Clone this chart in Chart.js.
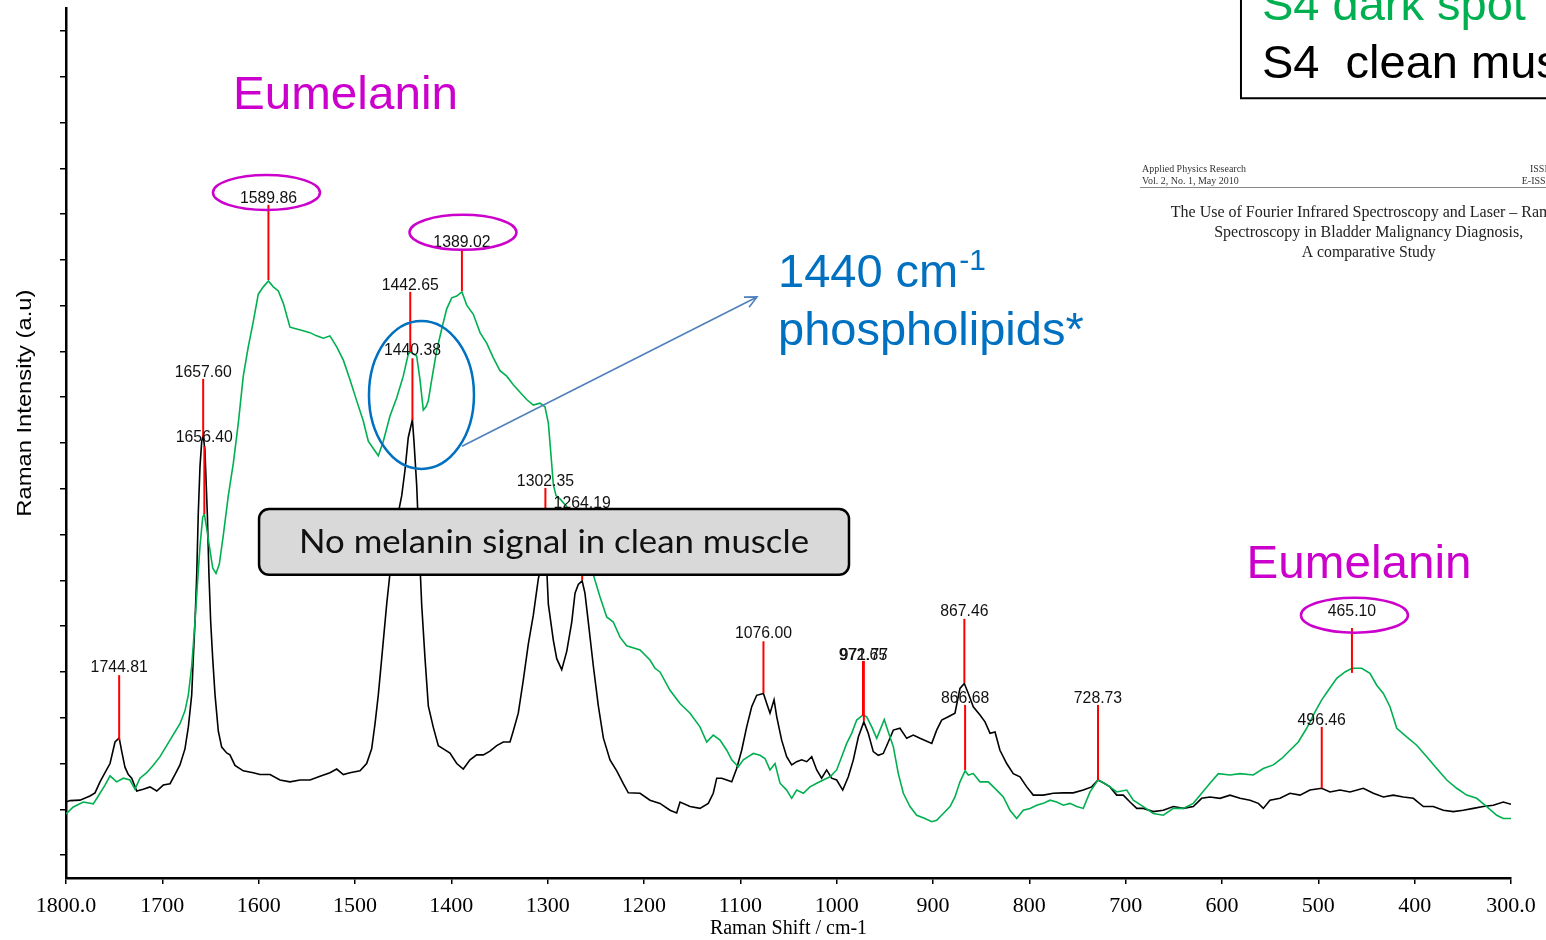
<!DOCTYPE html>
<html><head><meta charset="utf-8">
<script src="https://cdn.jsdelivr.net/npm/chart.js@4.4.1/dist/chart.umd.min.js"></script>
<style>html,body{margin:0;padding:0;background:#fff;}#wrap{width:1546px;height:940px;position:relative;}</style>
</head><body><div id="wrap"><canvas id="c"></canvas></div>
<script>
// ---------- DATA ----------
const xTickValues = [1800,1700,1600,1500,1400,1300,1200,1100,1000,900,800,700,600,500,400,300];
const yTickValues = [0,1,2,3,4,5,6,7,8,9,10,11,12,13,14,15,16,17,18];
const xTitle = 'Raman Shift / cm-1';
const yTitle = 'Raman Intensity (a.u)';
const seriesNames = ['S4 dark spot', 'S4  clean muscle'];

const greenWn = [1800,1792.4,1782.0,1771.7,1766.5,1759.5,1754.3,1747.4,1740.5,1733.6,1728.4,1723.2,1716.2,1709.4,1702.4,1695.5,1688.6,1681.7,1676.5,1673.0,1669.5,1666.1,1663.7,1660.9,1658.1,1656.4,1654.0,1651.2,1647.7,1644.3,1640.9,1636.7,1631.5,1626.3,1621.1,1616.0,1610.8,1605.6,1600.4,1595.2,1589.9,1584.8,1579.6,1574.4,1567.5,1560.5,1553.7,1546.7,1539.8,1532.9,1526.0,1519.0,1512.1,1505.2,1498.2,1491.4,1486.2,1481.0,1475.8,1470.6,1463.7,1456.7,1449.9,1444.7,1442.7,1436.0,1432.5,1429.1,1426.3,1423.9,1420.4,1415.2,1410.0,1404.8,1399.6,1394.4,1389.0,1384.0,1377.2,1370.2,1363.3,1356.4,1349.5,1342.5,1335.7,1328.7,1321.8,1314.9,1308.0,1302.8,1299.3,1296.8,1294.1,1291.3,1287.2,1280.2,1271.6,1261.3,1252.6,1245.7,1238.7,1231.9,1224.9,1218.0,1204.1,1193.8,1188.6,1183.4,1173.0,1162.6,1152.2,1141.9,1134.9,1128.1,1121.1,1114.1,1108.9,1102.1,1096.9,1091.7,1086.5,1079.6,1074.4,1069.2,1064.0,1058.8,1051.9,1046.7,1041.5,1034.6,1027.7,1020.7,1013.9,1006.9,1000.0,994.8,989.6,984.4,979.2,972.7,968.8,963.6,958.4,955.0,950.6,946.4,941.2,936.0,930.8,923.9,916.9,908.3,901.3,896.2,889.3,882.3,877.2,872.0,866.7,863.3,858.2,851.2,842.6,833.9,827.0,820.1,813.1,806.3,799.3,792.3,785.5,778.5,771.6,764.7,757.8,750.9,744.0,737.0,728.7,723.2,716.3,709.3,698.9,692.1,681.7,671.3,660.9,650.5,640.2,629.8,621.1,612.5,603.8,591.7,581.3,567.5,557.1,546.7,538.0,529.4,520.8,512.1,503.4,496.5,489.6,480.9,472.3,465.1,455.0,446.4,439.4,432.5,425.6,418.6,408.3,397.9,387.5,377.1,366.7,356.4,346.0,335.6,325.2,314.8,308.0,300];
const greenI = [0.90,1.05,1.16,1.12,1.29,1.53,1.73,1.60,1.68,1.64,1.44,1.68,1.80,1.96,2.15,2.39,2.63,2.87,3.15,3.50,4.13,5.09,5.88,6.75,7.38,7.45,7.14,6.75,6.27,6.15,6.35,6.99,7.85,8.56,9.44,10.46,11.10,11.65,12.25,12.41,12.54,12.41,12.32,12.05,11.53,11.49,11.45,11.41,11.34,11.29,11.34,11.10,10.81,10.38,9.92,9.48,9.04,8.88,8.72,9.04,9.59,9.99,10.46,10.94,10.99,10.90,10.38,9.72,9.79,9.92,10.38,11.02,11.49,11.93,12.17,12.21,12.30,12.01,11.81,11.41,11.18,10.86,10.58,10.46,10.27,10.11,9.95,9.83,9.87,9.79,9.44,8.80,8.09,7.85,7.78,7.61,7.21,6.71,6.12,5.64,5.20,5.09,4.76,4.57,4.48,4.26,4.08,4.00,3.60,3.31,3.10,2.80,2.47,2.62,2.51,2.29,2.08,1.93,2.08,2.15,2.22,2.18,2.11,1.86,2.00,1.57,1.42,1.24,1.42,1.35,1.49,1.57,1.64,1.71,1.86,2.15,2.44,2.66,2.95,3.06,3.02,2.80,2.55,2.73,2.96,2.69,2.37,1.78,1.35,1.06,0.87,0.80,0.73,0.76,0.91,1.06,1.27,1.60,1.84,1.75,1.78,1.60,1.60,1.42,1.27,0.98,0.80,0.98,1.02,1.09,1.13,1.20,1.16,1.09,1.13,1.06,1.02,1.38,1.64,1.58,1.49,1.38,1.42,1.20,1.06,0.91,0.87,1.02,1.02,1.13,1.35,1.57,1.78,1.75,1.78,1.75,1.89,1.97,2.11,2.29,2.47,2.77,3.13,3.39,3.60,3.86,4.00,4.08,4.08,3.97,3.71,3.53,3.24,2.77,2.58,2.40,2.15,1.89,1.64,1.46,1.31,1.24,1.06,0.87,0.80,0.80];

const blackWn = [1800,1795.8,1785.5,1775.1,1769.9,1764.7,1759.5,1754.3,1749.1,1744.8,1742.2,1738.8,1735.3,1731.8,1726.6,1719.8,1712.8,1705.8,1699.0,1692.0,1686.9,1681.7,1676.5,1673.0,1669.5,1667.9,1666.1,1664.3,1662.7,1660.9,1659.1,1657.6,1655.8,1655.0,1653.3,1651.6,1649.8,1647.7,1645.3,1641.9,1638.4,1633.2,1629.8,1624.6,1616.0,1605.6,1598.6,1588.2,1577.9,1567.5,1557.1,1546.7,1536.3,1526.0,1519.0,1512.1,1505.2,1494.8,1487.9,1482.7,1479.2,1475.8,1472.3,1467.1,1461.9,1456.7,1451.5,1448.1,1444.7,1440.4,1438.8,1436.0,1433.2,1430.8,1427.3,1423.9,1418.7,1413.5,1408.3,1401.4,1394.4,1387.6,1380.6,1373.7,1366.8,1359.9,1352.9,1346.1,1339.1,1335.7,1330.5,1325.3,1320.1,1314.9,1309.7,1306.2,1302.4,1299.3,1294.1,1290.6,1285.4,1280.2,1275.0,1271.6,1268.2,1264.2,1261.3,1257.8,1252.6,1247.4,1242.2,1235.3,1228.3,1221.5,1216.3,1204.1,1193.8,1183.4,1173.0,1166.1,1162.6,1152.2,1141.9,1133.3,1128.1,1124.5,1119.3,1114.1,1108.9,1103.8,1098.6,1093.4,1088.2,1083.0,1076.0,1072.6,1069.2,1065.0,1062.2,1057.1,1051.9,1046.7,1041.5,1036.3,1031.1,1025.9,1020.7,1015.6,1010.4,1005.2,1000.0,993.7,987.9,982.7,977.5,971.8,967.2,962.0,956.8,951.6,946.4,941.2,934.3,927.3,920.5,913.5,901.3,896.2,891.0,884.1,877.2,872.0,867.5,863.3,858.2,851.2,846.0,840.8,835.6,830.5,823.5,816.7,809.7,802.7,795.9,785.5,775.1,764.7,754.4,744.0,735.3,728.7,723.2,716.3,709.3,702.5,695.5,688.5,681.7,671.3,660.9,650.5,640.2,629.8,621.1,612.5,602.1,591.7,581.3,570.9,562.3,557.1,550.2,539.8,529.4,519.0,508.7,496.5,487.9,477.5,467.1,453.3,442.9,432.5,422.2,411.8,401.4,391.0,380.7,370.3,359.9,349.5,339.1,328.8,318.4,308.0,300];
const blackI = [1.16,1.19,1.20,1.29,1.36,1.60,1.80,2.00,2.47,2.56,2.27,1.92,1.76,1.68,1.40,1.44,1.49,1.40,1.53,1.56,1.76,1.97,2.32,2.80,3.50,4.29,5.09,6.12,7.46,8.49,9.04,9.16,8.85,8.41,7.46,6.12,5.09,4.29,3.50,2.71,2.36,2.23,2.19,1.96,1.84,1.80,1.76,1.76,1.64,1.60,1.64,1.64,1.72,1.80,1.88,1.76,1.80,1.84,2.00,2.32,2.87,3.50,4.29,5.48,6.51,7.30,7.85,8.41,9.12,9.51,9.04,8.09,6.66,5.48,4.29,3.26,2.79,2.39,2.32,2.23,2.00,1.88,2.08,2.19,2.19,2.27,2.39,2.47,2.47,2.71,3.10,3.82,4.61,5.24,6.03,6.36,6.92,5.48,4.69,4.29,4.05,4.45,5.09,5.72,5.91,5.99,5.72,5.09,4.13,3.26,2.56,2.08,1.84,1.56,1.36,1.35,1.20,1.13,0.98,0.92,1.16,1.06,1.02,1.13,1.35,1.68,1.68,1.64,1.60,1.89,2.29,2.80,3.24,3.49,3.53,3.31,3.10,3.39,3.02,2.51,2.15,1.97,2.04,2.08,2.04,2.15,1.86,1.68,1.86,1.68,1.64,1.42,1.71,2.08,2.58,2.91,2.66,2.26,2.18,2.22,2.47,2.73,2.77,2.55,2.62,2.55,2.44,2.73,2.95,3.02,3.10,3.64,3.75,3.53,3.24,3.06,2.91,2.66,2.69,2.29,2.00,1.78,1.71,1.49,1.31,1.31,1.35,1.36,1.36,1.42,1.49,1.64,1.58,1.49,1.31,1.31,1.16,1.02,1.02,0.95,0.98,1.06,1.02,1.06,1.24,1.27,1.24,1.31,1.24,1.20,1.13,1.02,1.20,1.24,1.35,1.31,1.42,1.46,1.38,1.42,1.38,1.46,1.35,1.27,1.31,1.27,1.24,1.06,1.06,0.98,0.95,0.98,1.02,1.06,1.09,1.16,1.11];

// peak annotations (wavenumber, label, label centre / line top / line bottom in intensity units)
const peakWn     = [1744.81,1657.60,1656.40,1589.86,1442.65,1440.38,1389.02,1302.35,1264.19,1076.00,972.65,971.77,867.46,866.68,728.73,496.46,465.10];
const peakText   = ['1744.81','1657.60','1656.40','1589.86','1442.65','1440.38','1389.02','1302.35','1264.19','1076.00','972.65','971.77','867.46','866.68','728.73','496.46','465.10'];
const peakLabelI = [4.13,10.59,9.15,14.39,12.49,11.07,13.43,8.21,7.73,4.87,4.39,4.39,5.35,3.45,3.45,2.97,5.35];
const peakTopI   = [3.93,10.40,8.93,14.20,12.30,10.85,13.24,8.02,7.54,4.67,4.24,4.24,5.16,3.28,3.28,2.80,4.96];
const peakBotI   = [2.51,9.13,7.45,12.56,10.99,9.50,12.32,6.92,6.01,3.54,3.04,2.93,3.76,1.86,1.64,1.46,3.98];

// ---------- helpers ----------
function fitText(ctx, text, x, y, font, color, align, width) {
  ctx.save();
  ctx.font = font; ctx.fillStyle = color; ctx.textBaseline = 'alphabetic';
  const w = ctx.measureText(text).width;
  const s = width ? width / w : 1;
  ctx.translate(x, y); ctx.scale(s, 1);
  ctx.textAlign = align; ctx.fillText(text, 0, 0);
  ctx.restore();
}
function roundRect(ctx, x, y, w, h, r) {
  ctx.beginPath();
  ctx.moveTo(x + r, y); ctx.lineTo(x + w - r, y); ctx.arcTo(x + w, y, x + w, y + r, r);
  ctx.lineTo(x + w, y + h - r); ctx.arcTo(x + w, y + h, x + w - r, y + h, r);
  ctx.lineTo(x + r, y + h); ctx.arcTo(x, y + h, x, y + h - r, r);
  ctx.lineTo(x, y + r); ctx.arcTo(x, y, x + r, y, r); ctx.closePath();
}

const SANS = '"Liberation Sans", Arial, sans-serif';
const SERIF = '"Liberation Serif", "Times New Roman", serif';

const overlay = {
  id: 'overlay',
  afterDatasetsDraw(chart) {
    const ctx = chart.ctx, xs = chart.scales.x, ys = chart.scales.y;
    const X = v => xs.getPixelForValue(v), Y = v => ys.getPixelForValue(v);
    ctx.save();
    // red peak markers
    ctx.strokeStyle = '#FF0000'; ctx.lineWidth = 2;
    peakWn.forEach((w, i) => {
      ctx.beginPath(); ctx.moveTo(X(w), Y(peakTopI[i])); ctx.lineTo(X(w), Y(peakBotI[i])); ctx.stroke();
    });
    ctx.fillStyle = '#111'; ctx.font = '15.8px ' + SANS; ctx.textAlign = 'center'; ctx.textBaseline = 'middle';
    peakWn.forEach((w, i) => ctx.fillText(peakText[i], X(w), Y(peakLabelI[i]) + 2));

    // magenta ellipses round the eumelanin peaks
    ctx.strokeStyle = '#CC00CC'; ctx.lineWidth = 2.5;
    [[1591.9, 14.47], [1387.9, 13.60], [462.5, 5.24]].forEach(([w, v]) => {
      ctx.beginPath(); ctx.ellipse(X(w), Y(v), 53.5, 17.5, 0, 0, Math.PI * 2); ctx.stroke();
    });

    // blue ellipse + arrow
    ctx.strokeStyle = '#0070C0'; ctx.lineWidth = 2.5;
    ctx.beginPath(); ctx.ellipse(X(1431.0), Y(10.05), 52.5, 74, 0, 0, Math.PI * 2); ctx.stroke();
    const ax = X(1388.9), ay = Y(8.93), bx = X(1082.7), by = Y(12.19);
    ctx.strokeStyle = '#4F81BD'; ctx.lineWidth = 1.6;
    ctx.beginPath(); ctx.moveTo(ax, ay); ctx.lineTo(bx, by); ctx.stroke();
    const ang = Math.atan2(by - ay, bx - ax), L = 13;
    ctx.beginPath();
    ctx.moveTo(bx - L * Math.cos(ang - 0.45), by - L * Math.sin(ang - 0.45));
    ctx.lineTo(bx, by);
    ctx.lineTo(bx - L * Math.cos(ang + 0.45), by - L * Math.sin(ang + 0.45));
    ctx.stroke();

    // "No melanin" box
    const bx0 = X(1599.6), bx1 = X(987.2), by0 = Y(7.56), by1 = Y(6.12);
    roundRect(ctx, bx0, by0, bx1 - bx0, by1 - by0, 10);
    ctx.fillStyle = '#D9D9D9'; ctx.fill();
    ctx.strokeStyle = '#000'; ctx.lineWidth = 2.5; ctx.stroke();
    fitText(ctx, 'No melanin signal in clean muscle', (bx0 + bx1) / 2, (by0 + by1) / 2 + 11, '33px Lato, "Open Sans", sans-serif', '#111', 'center', 510);

    // Eumelanin labels
    fitText(ctx, 'Eumelanin', X(1509.9), Y(16.30), '47px ' + SANS, '#CC00CC', 'center', 225);
    fitText(ctx, 'Eumelanin', X(457.8), Y(6.05), '47px ' + SANS, '#CC00CC', 'center', 225);

    // phospholipids annotation
    const px0 = X(1060.9);
    ctx.save();
    ctx.font = '47px ' + SANS; ctx.fillStyle = '#0070C0'; ctx.textAlign = 'left'; ctx.textBaseline = 'alphabetic';
    ctx.fillText('1440 cm', px0, Y(12.41));
    const wcm = ctx.measureText('1440 cm').width;
    ctx.font = '30px ' + SANS; ctx.fillText('-1', px0 + wcm + 1, Y(12.41) - 17);
    ctx.font = '47px ' + SANS; ctx.fillText('phospholipids*', px0, Y(11.14));
    ctx.restore();

    // legend box (series names from datasets)
    const lx = X(580.3), lb = Y(16.53);
    ctx.strokeStyle = '#000'; ctx.lineWidth = 2;
    ctx.beginPath(); ctx.moveTo(lx, -5); ctx.lineTo(lx, lb); ctx.lineTo(chart.width + 5, lb); ctx.stroke();
    const ds = chart.data.datasets;
    ctx.font = '47px ' + SANS; ctx.textAlign = 'left'; ctx.textBaseline = 'alphabetic';
    ctx.fillStyle = ds[0].borderColor; ctx.fillText(ds[0].label, X(558.5), Y(18.24));
    ctx.fillStyle = ds[1].borderColor; ctx.fillText(ds[1].label, X(558.5), Y(16.97));

    // journal header
    fitText(ctx, 'Applied Physics Research', X(683.0), Y(14.91), '10px ' + SERIF, '#333', 'left', 104);
    fitText(ctx, 'Vol. 2, No. 1, May 2010', X(683.0), Y(14.66), '10px ' + SERIF, '#333', 'left', 96.6);
    fitText(ctx, 'ISSN', X(280.3), Y(14.91), '10px ' + SERIF, '#333', 'left');
    fitText(ctx, 'E-ISSN', X(288.9), Y(14.66), '10px ' + SERIF, '#333', 'left');
    ctx.strokeStyle = '#888'; ctx.lineWidth = 1;
    ctx.beginPath(); ctx.moveTo(X(685.0), Y(14.58)); ctx.lineTo(chart.width, Y(14.58)); ctx.stroke();
    const tcx = X(447.7);
    fitText(ctx, 'The Use of Fourier Infrared Spectroscopy and Laser \u2013 Raman', tcx, Y(13.94), '16px ' + SERIF, '#222', 'center');
    fitText(ctx, 'Spectroscopy in Bladder Malignancy Diagnosis,', tcx, Y(13.49), '16px ' + SERIF, '#222', 'center', 309);
    fitText(ctx, 'A comparative Study', tcx, Y(13.07), '16px ' + SERIF, '#222', 'center', 134);

    // y-axis title
    ctx.save();
    ctx.translate(X(1843.6), Y(9.87));
    ctx.rotate(-Math.PI / 2);
    fitText(ctx, yTitle, 0, 7, '20px ' + SANS, '#000', 'center', 227);
    ctx.restore();

    ctx.restore();
  }
};

new Chart(document.getElementById('c'), {
  type: 'line',
  data: {
    datasets: [
      { label: seriesNames[0], data: greenWn.map((x, i) => ({ x, y: greenI[i] })), borderColor: '#00B050', borderWidth: 1.6, pointRadius: 0, tension: 0, fill: false },
      { label: seriesNames[1], data: blackWn.map((x, i) => ({ x, y: blackI[i] })), borderColor: '#000000', borderWidth: 1.6, pointRadius: 0, tension: 0, fill: false }
    ]
  },
  options: {
    responsive: true, maintainAspectRatio: false, animation: false,
    layout: { padding: { left: 0, top: 8, right: 35, bottom: 0 } },
    plugins: { legend: { display: false }, tooltip: { enabled: false } },
    scales: {
      x: {
        type: 'linear', reverse: true, min: 300, max: 1800,
        afterBuildTicks: s => { s.ticks = xTickValues.map(v => ({ value: v })); },
        afterFit: s => { s.height = 62; },
        border: { display: true, color: '#000', width: 2.5 },
        grid: { drawOnChartArea: false, drawTicks: true, tickLength: 6, color: '#000', lineWidth: 1.5 },
        ticks: { font: { family: '"Liberation Serif"', size: 22 }, color: '#000', padding: 9, maxRotation: 0, autoSkip: false,
                 callback: v => (v === 1800 || v === 300) ? v.toFixed(1) : String(v) },
        title: { display: true, text: xTitle, font: { family: '"Liberation Serif"', size: 20, lineHeight: 1.0 }, color: '#000', padding: { top: 0, bottom: 1 } }
      },
      y: {
        type: 'linear', min: -0.5, max: 18.5,
        afterBuildTicks: s => { s.ticks = yTickValues.map(v => ({ value: v })); },
        afterFit: s => { s.width = 66; },
        border: { display: true, color: '#000', width: 2.5 },
        grid: { drawOnChartArea: false, drawTicks: true, tickLength: 6, color: '#000', lineWidth: 1.5 },
        ticks: { display: false }
      }
    }
  },
  plugins: [overlay]
});
</script>
</body></html>
